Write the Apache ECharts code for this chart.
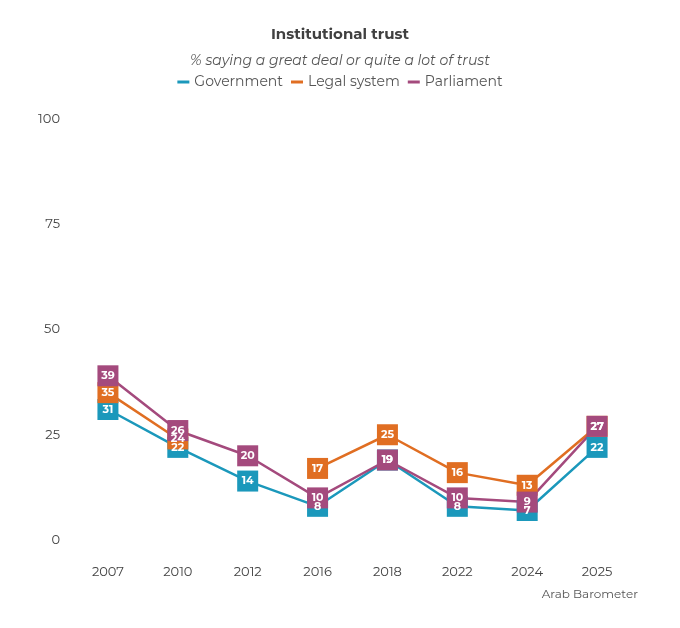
<!DOCTYPE html>
<html>
<head>
<meta charset="utf-8">
<title>Institutional trust</title>
<script src="https://cdn.jsdelivr.net/npm/echarts@6/dist/echarts.min.js"></script>
</head>
<body style="margin:0">
<div id="main" style="width:680px;height:628px;"></div>
<script>
var years = ['2007', '2010', '2012', '2016', '2018', '2022', '2024', '2025'];
var government = [31, 22, 14, 8, 19, 8, 7, 22];
var legalSystem = [35, 24, null, 17, 25, 16, 13, 27];
var parliament = [39, 26, 20, 10, 19, 10, 9, 27];
var yTicks = [0, 25, 50, 75, 100];

var font = 'Montserrat, "Open Sans", sans-serif';
function line(name, data, color) {
  return {
    name: name, type: 'line', data: data, connectNulls: false,
    symbol: 'rect', symbolSize: 21, showAllSymbol: true,
    itemStyle: { color: color },
    lineStyle: { color: color, width: 2.5 },
    label: { show: true, position: 'inside', color: '#fff', fontWeight: 'bold', fontSize: 11, fontFamily: font }
  };
}
var chart = echarts.init(document.getElementById('main'));
chart.setOption({
  textStyle: { fontFamily: font },
  title: {
    text: 'Institutional trust', subtext: '% saying a great deal or quite a lot of trust',
    left: 'center', top: 22, itemGap: 12,
    textStyle: { fontSize: 15, fontWeight: 'bold', color: '#404040', fontFamily: font },
    subtextStyle: { fontSize: 14, fontStyle: 'italic', color: '#555', fontFamily: font }
  },
  legend: {
    top: 70, left: 'center', icon: 'rect', itemWidth: 12, itemHeight: 3, itemGap: 8,
    textStyle: { fontSize: 14, color: '#555', fontFamily: font }
  },
  graphic: [{ type: 'text', right: 42, top: 588, style: { text: 'Arab Barometer', fill: '#555', fontSize: 12, fontFamily: font } }],
  grid: { left: 73, right: 48, top: 119, bottom: 88 },
  xAxis: {
    type: 'category', data: years,
    axisLine: { show: false }, axisTick: { show: false },
    axisLabel: { color: '#444', fontSize: 13, margin: 26 }
  },
  yAxis: {
    type: 'value', min: yTicks[0], max: yTicks[yTicks.length - 1], interval: 25,
    splitLine: { show: false },
    axisLabel: { color: '#444', fontSize: 13, margin: 13 }
  },
  series: [
    line('Government', government, '#1b98bb'),
    line('Legal system', legalSystem, '#e06e22'),
    line('Parliament', parliament, '#a44a7d')
  ]
});
</script>
</body>
</html>
